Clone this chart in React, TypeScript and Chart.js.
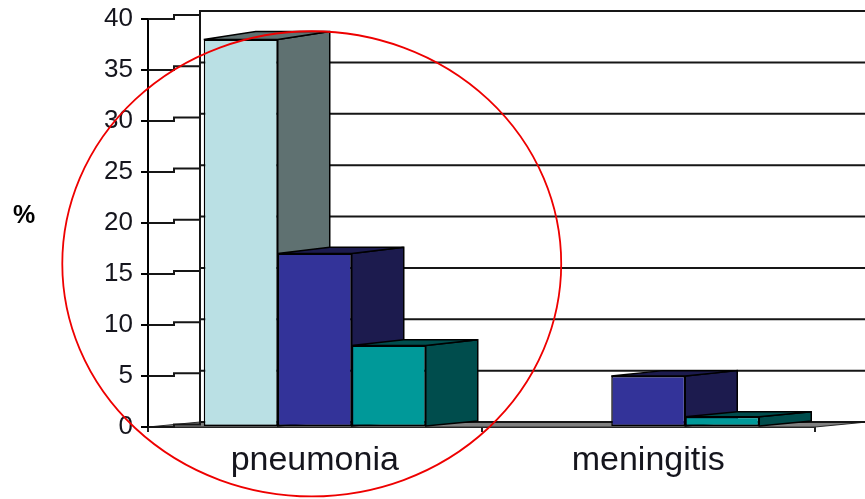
import { useEffect, useRef } from "react";
import { Chart, registerables } from "chart.js";

Chart.register(...registerables);

// Percentage of cases per diagnosis, three groups
const categories = ["pneumonia", "meningitis"];
const groupA = [38, 0];
const groupB = [17, 5];
const groupC = [8, 1];

const yMin = 0;
const yMax = 40;
const yStep = 5;

const frontColors = ["#BAE0E4", "#333399", "#009999"];
const sideColors = ["#5F7171", "#1C1B4E", "#004D4D"];

// Pseudo-3D depth of the columns and walls
const DEPTH_X = 52;
const DEPTH_Y_BASE = 5;
const DEPTH_Y_TOP = 8;

const TEXT_COLOR = "#15151d";
const FONT = "'Liberation Sans', Arial, sans-serif";

function backY(chart: any, yPix: number): number {
  const { top, bottom } = chart.chartArea;
  const t = (bottom - yPix) / (bottom - top);
  return yPix - (DEPTH_Y_BASE + (DEPTH_Y_TOP - DEPTH_Y_BASE) * t);
}

const wallsAndSides = {
  id: "wallsAndSides",
  beforeDatasetsDraw(chart: any) {
    const ctx = chart.ctx as CanvasRenderingContext2D;
    const { left, right, top, bottom } = chart.chartArea;
    const yScale = chart.scales.y;
    const wallX = left + DEPTH_X;
    const endX = chart.width;

    ctx.save();

    // floor strip
    const floorBack = backY(chart, bottom);
    ctx.beginPath();
    ctx.moveTo(left, bottom);
    ctx.lineTo(right, bottom);
    ctx.lineTo(right + DEPTH_X, floorBack);
    ctx.lineTo(wallX, floorBack);
    ctx.closePath();
    ctx.fillStyle = "#808080";
    ctx.fill();
    ctx.lineWidth = 1;
    ctx.strokeStyle = "#2a2a2a";
    ctx.stroke();

    // back wall and side wall gridlines
    ctx.strokeStyle = "#161616";
    ctx.lineWidth = 2;
    for (let v = yMin; v <= yMax; v += yStep) {
      const y0 = yScale.getPixelForValue(v);
      const yb = backY(chart, y0);
      const mid = (y0 + yb) / 2;
      const stepX = left + DEPTH_X * 0.5;
      ctx.beginPath();
      ctx.moveTo(left, y0);
      ctx.lineTo(stepX, y0);
      ctx.lineTo(stepX, mid);
      ctx.lineTo(wallX, mid);
      ctx.lineTo(wallX, yb);
      ctx.lineTo(endX, yb);
      ctx.stroke();
    }
    // back-left corner of the walls
    ctx.beginPath();
    ctx.moveTo(wallX, backY(chart, top));
    ctx.lineTo(wallX, floorBack);
    ctx.stroke();

    // side and top faces of every column, left to right
    chart.data.datasets.forEach((ds: any, di: number) => {
      const meta = chart.getDatasetMeta(di);
      meta.data.forEach((el: any, i: number) => {
        if (!ds.data[i]) return;
        const { x, y, base, width } = el.getProps(["x", "y", "base", "width"], true);
        const L = x - width / 2;
        const R = x + width / 2;
        const bt = backY(chart, y);
        const bb = backY(chart, base);
        ctx.fillStyle = sideColors[di];
        ctx.strokeStyle = "#000";
        ctx.lineWidth = 1.5;
        // right side face
        ctx.beginPath();
        ctx.moveTo(R, y);
        ctx.lineTo(R + DEPTH_X, bt);
        ctx.lineTo(R + DEPTH_X, bb);
        ctx.lineTo(R, base);
        ctx.closePath();
        ctx.fill();
        ctx.stroke();
        // top face
        ctx.beginPath();
        ctx.moveTo(L, y);
        ctx.lineTo(L + DEPTH_X, bt);
        ctx.lineTo(R + DEPTH_X, bt);
        ctx.lineTo(R, y);
        ctx.closePath();
        ctx.fill();
        ctx.stroke();
      });
    });

    ctx.restore();
  },
};

const overlay = {
  id: "overlay",
  afterDraw(chart: any) {
    const ctx = chart.ctx as CanvasRenderingContext2D;
    const xScale = chart.scales.x;
    const yScale = chart.scales.y;
    ctx.save();

    // axis caption
    ctx.fillStyle = "#000";
    ctx.font = `bold 25px ${FONT}`;
    ctx.textAlign = "center";
    ctx.textBaseline = "middle";
    ctx.fillText("%", 24, 216);

    // red circle around the pneumonia group
    const catW = (xScale.right - xScale.left) / categories.length;
    const cx = xScale.getPixelForValue(0) - 3;
    const cy = yScale.getPixelForValue(16);
    const rx = catW * 0.748;
    const ry = yScale.getPixelForValue(0) - yScale.getPixelForValue(22.8);
    ctx.beginPath();
    ctx.ellipse(cx, cy, rx, ry, 0, 0, Math.PI * 2);
    ctx.strokeStyle = "#ee0000";
    ctx.lineWidth = 1.8;
    ctx.stroke();

    ctx.restore();
  },
};

export default function App() {
  const ref = useRef<HTMLCanvasElement>(null);

  useEffect(() => {
    const canvas = ref.current;
    if (!canvas) return;
    const series = [groupA, groupB, groupC];
    const chart = new Chart(canvas, {
      type: "bar",
      data: {
        labels: categories,
        datasets: series.map((values, i) => ({
          label: `group ${i + 1}`,
          data: values,
          backgroundColor: frontColors[i],
          borderColor: "#000",
          borderWidth: 1.5,
          borderSkipped: false,
        })),
      },
      options: {
        animation: false,
        responsive: false,
        layout: { padding: { left: 0, top: 19, right: 50, bottom: 0 } },
        plugins: {
          legend: { display: false },
          tooltip: { enabled: false },
          title: { display: false },
        },
        datasets: {
          bar: { categoryPercentage: 0.6657, barPercentage: 1 },
        },
        scales: {
          x: {
            offset: true,
            grid: {
              display: true,
              drawOnChartArea: false,
              drawTicks: true,
              tickLength: 5,
              color: "#222",
              lineWidth: 2,
              offset: true,
            },
            border: { display: true, color: "#222", width: 2 },
            ticks: {
              color: TEXT_COLOR,
              font: { family: FONT, size: 34 },
              padding: 8,
              maxRotation: 0,
            },
            afterFit: (s: any) => {
              s.height = 72;
              s.paddingLeft = 0;
              s.paddingRight = 0;
            },
          },
          y: {
            min: yMin,
            max: yMax,
            grid: {
              display: true,
              drawOnChartArea: false,
              drawTicks: true,
              tickLength: 7,
              color: "#000",
              lineWidth: 2,
            },
            border: { display: true, color: "#000", width: 2 },
            ticks: {
              stepSize: yStep,
              color: TEXT_COLOR,
              font: { family: FONT, size: 26 },
              padding: 8,
            },
            afterFit: (s: any) => {
              s.width = 148;
              s.paddingTop = 0;
              s.paddingBottom = 0;
            },
          },
        },
      },
      plugins: [wallsAndSides, overlay],
    });
    return () => chart.destroy();
  }, []);

  return (
    <div style={{ position: "fixed", left: 0, top: 0, width: 865, height: 499, background: "#fff" }}>
      <canvas ref={ref} width={865} height={499} style={{ display: "block" }} />
    </div>
  );
}
